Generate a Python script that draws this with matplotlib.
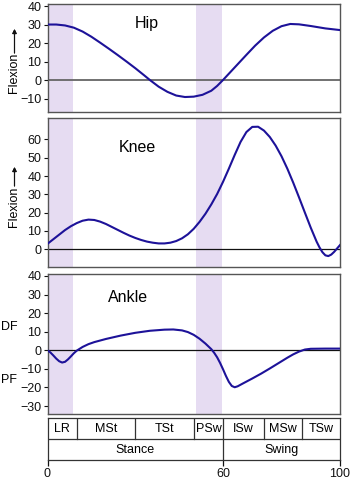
import matplotlib
matplotlib.use("Agg")
import matplotlib.pyplot as plt

plt.rcParams['font.family'] = ['Liberation Sans', 'DejaVu Sans']
plt.rcParams['axes.unicode_minus'] = True

# gait cycle (% of cycle) vs joint angle (degrees)
hip_x = [0, 3, 6, 9, 12, 15, 18, 21, 24, 27, 30, 33, 35, 38, 41, 44, 47, 50, 53,
         56, 58, 60, 62, 65, 68, 71, 74, 77, 80, 83, 86, 90, 95, 100]
hip_y = [30, 30, 29.5, 28.3, 26.2, 23.4, 20.2, 16.9, 13.5, 10, 6.4, 2.6, 0, -3.6,
         -6.4, -8.4, -9.2, -9.0, -8.0, -5.8, -3.2, 0, 3.4, 8.5, 13.6, 18.6, 23,
         26.6, 29.1, 30.3, 30.1, 29.2, 27.9, 27]

knee_x = [0, 2, 4, 6, 8, 10, 12, 14, 16, 18, 20, 22, 24, 26, 28, 30, 32, 34, 36,
          38, 40, 42, 44, 46, 48, 50, 52, 54, 56, 58, 60, 62, 64, 66, 68, 70, 72,
          74, 76, 78, 80, 82, 84, 86, 88, 90, 92, 93, 94, 95, 96, 97, 98, 100]
knee_y = [3, 5.5, 8, 10.5, 12.6, 14.3, 15.6, 16.2, 16.0, 15.1, 13.8, 12.2, 10.6,
          9.0, 7.5, 6.2, 5.1, 4.2, 3.6, 3.2, 3.2, 3.6, 4.5, 6.0, 8.2, 11.2, 15,
          19.4, 24.5, 30.2, 36.8, 44, 51.5, 58.6, 64, 66.8, 66.9, 64.8, 61.3,
          56.6, 50.8, 44, 36.4, 28.3, 20, 11.8, 4.2, 1.0, -1.6, -3.3, -3.7, -2.9,
          -1.4, 2.3]

ankle_x = [0, 1, 2, 3, 4, 5, 6, 7, 8, 9, 10, 12, 14, 16, 20, 25, 30, 35, 40, 43,
           46, 48, 50, 52, 54, 56, 57, 58, 59, 60, 61, 62, 63, 64, 65, 67, 70, 73,
           76, 79, 82, 84, 86, 88, 90, 95, 100]
ankle_y = [0, -1.2, -2.8, -4.5, -5.9, -6.6, -6.2, -4.9, -3.3, -1.6, -0.2, 1.8,
           3.3, 4.4, 6.1, 7.9, 9.4, 10.5, 11.1, 11.2, 10.7, 9.8, 8.3, 6.2, 3.6,
           0.6, -1.4, -3.8, -6.8, -10.2, -13.8, -17, -19.2, -19.9, -19.4, -17.7,
           -15.2, -12.6, -9.8, -6.9, -4.0, -2.2, -0.7, 0.4, 0.8, 0.9, 0.9]

# shaded double-support periods
bands = [(0.6, 8.8), (50.6, 59.7)]

phase_names = ['LR', 'MSt', 'TSt', 'PSw', 'ISw', 'MSw', 'TSw']
phase_edges = [0, 10, 30, 50, 60, 74, 87, 100]
period_names = ['Stance', 'Swing']
period_edges = [0, 60, 100]

line_col = '#1d1299'
band_col = '#e6dcf2'
frame_col = '#555555'
fs = 9

fig = plt.figure(figsize=(3.51, 4.80), dpi=100)
W, H = 351.0, 480.0
left, width = 47.5 / W, 292.5 / W


def make_ax(top, bottom):
    return fig.add_axes([left, 1 - bottom / H, width, (bottom - top) / H])


def style(ax, ylim, yticks):
    ax.set_xlim(0, 100)
    ax.set_ylim(*ylim)
    ax.set_xticks([])
    ax.set_yticks(yticks)
    ax.tick_params(axis='y', length=3, width=0.8, pad=1.5, labelsize=fs,
                   colors='#111111')
    for s in ax.spines.values():
        s.set_color(frame_col)
        s.set_linewidth(1.0)
    for a, b in bands:
        ax.axvspan(a, b, color=band_col, lw=0, zorder=0)


def flexion_label(text_mid, arrow_from, arrow_to):
    # positions in pixels from the top of the figure
    fig.text(14 / W, 1 - text_mid / H, 'Flexion', fontsize=fs, rotation=90,
             ha='center', va='center')
    fig.add_artist(plt.annotate('', xy=(14.5 / W, 1 - arrow_to / H),
                                xytext=(14.5 / W, 1 - arrow_from / H),
                                xycoords='figure fraction',
                                arrowprops=dict(arrowstyle='-|>', lw=0.8,
                                                color='#111111',
                                                mutation_scale=6,
                                                shrinkA=0, shrinkB=0)))


ax1 = make_ax(4, 112)
style(ax1, (-17.3, 41.1), [-10, 0, 10, 20, 30, 40])
ax1.axhline(0, color='#666666', lw=1.3, zorder=1)
ax1.plot(hip_x, hip_y, color=line_col, lw=1.5, zorder=3)
ax1.text(34, 30.3, 'Hip', fontsize=11.5, ha='center', va='center')

ax2 = make_ax(118.3, 266.7)
style(ax2, (-9.5, 71.5), [0, 10, 20, 30, 40, 50, 60])
ax2.axhline(0, color='#111111', lw=0.9, zorder=1)
ax2.plot(knee_x, knee_y, color=line_col, lw=1.5, zorder=3)
ax2.text(30.8, 55.6, 'Knee', fontsize=11.5, ha='center', va='center')

ax3 = make_ax(274.3, 414)
style(ax3, (-34.3, 40.9), [-30, -20, -10, 0, 10, 20, 30, 40])
ax3.axhline(0, color='#111111', lw=0.9, zorder=1)
ax3.plot(ankle_x, ankle_y, color=line_col, lw=1.5, zorder=3)
ax3.text(27.5, 28.2, 'Ankle', fontsize=11.5, ha='center', va='center')

flexion_label(73, 53, 29)
flexion_label(206.5, 186, 167)
fig.text(1 / W, 1 - 327 / H, 'DF', fontsize=fs, ha='left', va='center')
fig.text(1 / W, 1 - 380 / H, 'PF', fontsize=fs, ha='left', va='center')

# phase table below the plots
axt = make_ax(418.3, 460)
axt.set_xlim(0, 100)
axt.set_ylim(0, 2)
axt.set_yticks([])
axt.set_xticks([0, 60, 100])
axt.tick_params(axis='x', length=4, width=0.9, pad=2, labelsize=fs,
                colors='#111111')
for s in axt.spines.values():
    s.set_color('#333333')
    s.set_linewidth(0.9)
axt.axhline(1, color='#333333', lw=0.9)
for e in phase_edges[1:-1]:
    axt.plot([e, e], [1, 2], color='#333333', lw=0.9)
for i, name in enumerate(phase_names):
    axt.text((phase_edges[i] + phase_edges[i + 1]) / 2, 1.5, name,
             fontsize=fs, ha='center', va='center')
for e in period_edges[1:-1]:
    axt.plot([e, e], [0, 1], color='#333333', lw=0.9)
for i, name in enumerate(period_names):
    axt.text((period_edges[i] + period_edges[i + 1]) / 2, 0.5, name,
             fontsize=fs, ha='center', va='center')

fig.savefig('out.png', dpi=100)
